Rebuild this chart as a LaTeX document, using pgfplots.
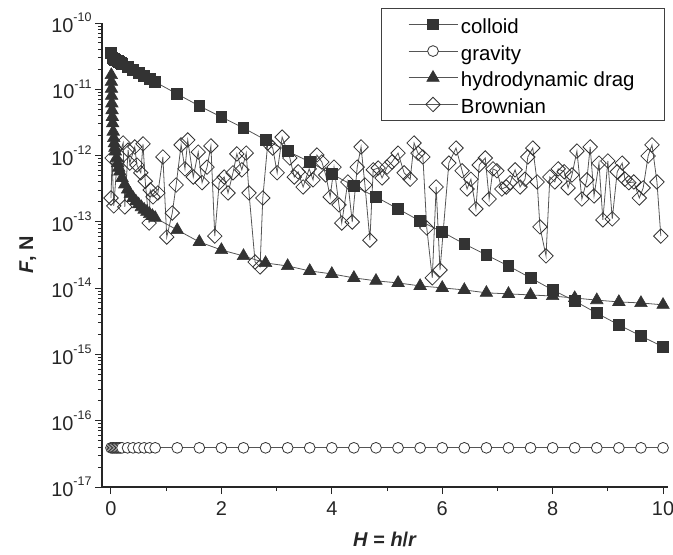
\documentclass[border=0pt]{standalone}
\usepackage{pgfplots}
\pgfplotsset{compat=1.18}
\usepackage{fontspec}
\setmainfont{Liberation Sans}
\definecolor{mk}{HTML}{333333}
\definecolor{ln}{HTML}{555555}
\newcommand{\tl}[1]{10\raisebox{0.55em}{\fontsize{12.5}{12.5}\selectfont #1}}
\pgfplotsset{mylegend/.style={legend image code/.code={\draw[mark repeat=2,mark phase=2] plot coordinates {(0bp,0bp) (24.5bp,0bp) (49bp,0bp)};}}}
\begin{document}
\begin{tikzpicture}
\path[use as bounding box] (-102bp,-68bp) rectangle (571bp,487bp);
\begin{axis}[
  scale only axis, width=566bp, height=464bp,
  xmin=-0.163, xmax=10.09,
  ymode=log, ymin=1e-17, ymax=1e-10,
  axis x line*=bottom, axis y line*=left,
  axis line style={-, line width=1.3bp, color=black!85},
  tick align=outside,
  major tick length=7bp, minor tick length=4bp,
  every tick/.style={line width=1bp, color=black!85},
  xtick={0,2,4,6,8,10}, minor xtick={1,3,5,7,9},
  ytick={1e-17,1e-16,1e-15,1e-14,1e-13,1e-12,1e-11,1e-10},
  minor ytick={2e-17,3e-17,4e-17,5e-17,6e-17,7e-17,8e-17,9e-17,
    2e-16,3e-16,4e-16,5e-16,6e-16,7e-16,8e-16,9e-16,
    2e-15,3e-15,4e-15,5e-15,6e-15,7e-15,8e-15,9e-15,
    2e-14,3e-14,4e-14,5e-14,6e-14,7e-14,8e-14,9e-14,
    2e-13,3e-13,4e-13,5e-13,6e-13,7e-13,8e-13,9e-13,
    2e-12,3e-12,4e-12,5e-12,6e-12,7e-12,8e-12,9e-12,
    2e-11,3e-11,4e-11,5e-11,6e-11,7e-11,8e-11,9e-11},
  yticklabels={\tl{-17},\tl{-16},\tl{-15},\tl{-14},\tl{-13},\tl{-12},\tl{-11},\tl{-10}},
  /pgf/number format/assume math mode=true,
  ticklabel style={font=\fontsize{20}{20}\selectfont, color=black!85},
  xticklabel style={yshift=-4bp},
  xlabel={\textbf{\textit{H} = \textit{h}/\textit{r}}},
  ylabel={\textbf{\textit{F}, N}},
  label style={font=\fontsize{20}{20}\selectfont, color=black!85},
  xlabel style={at={(axis description cs:0.5,-0.114)}, anchor=center},
  ylabel style={at={(axis description cs:-0.131,0.5)}, anchor=center},
  clip=false,
  legend style={at={(axis description cs:1,1)}, anchor=north east, xshift=-3bp, yshift=15bp,
    draw=black!75, line width=0.8bp, fill=white,
    font=\fontsize{20.5}{24}\selectfont,
    nodes={text height=18bp, text depth=0bp, inner ysep=4.35bp, inner xsep=3bp},
    inner xsep=27bp, inner ysep=2.6bp, row sep=0bp},
  legend cell align=left,
]
% colloid
\addplot[mylegend, color=ln, line width=0.8bp, mark=square*, mark size=5.4bp, mark options={draw=mk, fill=mk, line width=0.8bp}] coordinates {
(0,3.53e-11) (0.025,2.96e-11) (0.05,2.88e-11) (0.075,2.80e-11) (0.1,2.72e-11) (0.125,2.65e-11) (0.15,2.58e-11) (0.175,2.51e-11) (0.2,2.44e-11) (0.3,2.20e-11) (0.4,1.98e-11) (0.5,1.78e-11) (0.6,1.60e-11) (0.7,1.43e-11) (0.8,1.29e-11) (1.2,8.49e-12) (1.6,5.60e-12) (2.0,3.82e-12) (2.4,2.61e-12) (2.8,1.72e-12) (3.2,1.17e-12) (3.6,8.0e-13) (4.0,5.28e-13) (4.4,3.48e-13) (4.8,2.38e-13) (5.2,1.57e-13) (5.6,1.03e-13) (6.0,7.05e-14) (6.4,4.65e-14) (6.8,3.17e-14) (7.2,2.16e-14) (7.6,1.43e-14) (8.0,9.4e-15) (8.4,6.4e-15) (8.8,4.2e-15) (9.2,2.79e-15) (9.6,1.90e-15) (10,1.30e-15)
};
\addlegendentry{colloid}
% gravity
\addplot[mylegend, color=ln, line width=0.8bp, mark=*, mark size=5.4bp, mark options={draw=mk, fill=white, line width=0.8bp}] coordinates {
(0,3.9e-17) (0.025,3.9e-17) (0.05,3.9e-17) (0.075,3.9e-17) (0.1,3.9e-17) (0.125,3.9e-17) (0.15,3.9e-17) (0.175,3.9e-17) (0.2,3.9e-17) (0.3,3.9e-17) (0.4,3.9e-17) (0.5,3.9e-17) (0.6,3.9e-17) (0.7,3.9e-17) (0.8,3.9e-17) (1.2,3.9e-17) (1.6,3.9e-17) (2.0,3.9e-17) (2.4,3.9e-17) (2.8,3.9e-17) (3.2,3.9e-17) (3.6,3.9e-17) (4.0,3.9e-17) (4.4,3.9e-17) (4.8,3.9e-17) (5.2,3.9e-17) (5.6,3.9e-17) (6.0,3.9e-17) (6.4,3.9e-17) (6.8,3.9e-17) (7.2,3.9e-17) (7.6,3.9e-17) (8.0,3.9e-17) (8.4,3.9e-17) (8.8,3.9e-17) (9.2,3.9e-17) (9.6,3.9e-17) (10,3.9e-17)
};
\addlegendentry{gravity}
% hydrodynamic drag
\addplot[mylegend, color=ln, line width=0.8bp, mark=triangle*, mark size=7.2bp, mark options={draw=mk, fill=mk, line width=0.6bp}] coordinates {
(0.0056,1.64e-11) (0.0071,1.30e-11) (0.009,1.02e-11) (0.0115,8.0e-12) (0.015,6.13e-12) (0.019,4.84e-12) (0.024,3.83e-12) (0.03,3.07e-12) (0.04,2.3e-12) (0.05,1.84e-12) (0.06,1.53e-12) (0.07,1.31e-12) (0.08,1.15e-12) (0.1,9.2e-13) (0.12,7.67e-13) (0.14,6.57e-13) (0.16,5.75e-13) (0.2,4.6e-13) (0.25,3.68e-13) (0.3,3.07e-13) (0.35,2.63e-13) (0.4,2.3e-13) (0.45,2.04e-13) (0.5,1.84e-13) (0.55,1.67e-13) (0.6,1.53e-13) (0.65,1.42e-13) (0.7,1.31e-13) (0.75,1.23e-13) (0.8,1.15e-13) (1.2,7.55e-14) (1.6,4.98e-14) (2.0,3.77e-14) (2.4,3.06e-14) (2.8,2.40e-14) (3.2,2.16e-14) (3.6,1.82e-14) (4.0,1.64e-14) (4.4,1.43e-14) (4.8,1.29e-14) (5.2,1.20e-14) (5.6,1.08e-14) (6.0,1.01e-14) (6.4,9.4e-15) (6.8,8.5e-15) (7.2,8.2e-15) (7.6,7.9e-15) (8.0,7.6e-15) (8.4,7.1e-15) (8.8,6.6e-15) (9.2,6.2e-15) (9.6,5.98e-15) (10,5.6e-15)
};
\addlegendentry{hydrodynamic drag}
% Brownian
\addplot[mylegend, color=ln, line width=0.8bp, mark=square, mark size=5.1bp, mark options={draw=mk, fill=white, line width=0.8bp, rotate=45}] coordinates {
(0.00,2.29e-13) (0.02,9.2e-13) (0.05,1.74e-13) (0.11,8.0e-13) (0.22,1.55e-12) (0.25,1.68e-13) (0.31,1.21e-12) (0.34,7.7e-13) (0.43,1.35e-12) (0.47,7.2e-13) (0.54,5.5e-13) (0.58,1.50e-12) (0.62,4.1e-13) (0.69,9.6e-14) (0.71,3.03e-13) (0.76,2.38e-13) (0.85,2.73e-13) (0.94,9.53e-13) (1.01,5.9e-14) (1.11,1.36e-13) (1.18,3.6e-13) (1.27,1.45e-12) (1.34,6.3e-13) (1.39,1.72e-12) (1.49,4.75e-13) (1.58,1.13e-12) (1.65,3.9e-13) (1.74,6.7e-13) (1.81,1.40e-12) (1.88,6.1e-14) (1.96,3.9e-13) (2.05,4.75e-13) (2.12,2.73e-13) (2.21,5.5e-13) (2.28,1.06e-12) (2.37,6.1e-13) (2.45,1.09e-12) (2.50,2.73e-13) (2.61,2.48e-14) (2.70,2.09e-14) (2.75,2.29e-13) (2.84,1.55e-12) (2.93,1.30e-12) (3.01,5.5e-13) (3.10,1.9e-12) (3.24,9.2e-13) (3.32,4.75e-13) (3.39,5.7e-13) (3.48,3.36e-13) (3.59,6.3e-13) (3.66,4.3e-13) (3.73,1.02e-12) (3.82,8.0e-13) (3.89,5.1e-13) (3.97,2.38e-13) (4.04,6.7e-13) (4.13,1.80e-13) (4.18,9.6e-14) (4.29,4.0e-13) (4.37,9.96e-14) (4.46,6.7e-13) (4.53,1.35e-12) (4.60,3.6e-13) (4.69,5.3e-14) (4.75,6.1e-13) (4.84,6.5e-13) (4.91,4.6e-13) (5.00,6.7e-13) (5.09,8.0e-13) (5.20,1.09e-12) (5.31,5.5e-13) (5.42,4.4e-13) (5.49,1.55e-12) (5.56,1.09e-12) (5.65,9.53e-13) (5.72,8.1e-14) (5.82,1.43e-14) (5.89,3.36e-13) (5.96,1.88e-14) (6.12,7.7e-13) (6.25,1.30e-12) (6.36,5.9e-13) (6.45,3.13e-13) (6.52,4.4e-13) (6.61,1.57e-13) (6.67,7.2e-13) (6.78,9.2e-13) (6.85,2.21e-13) (6.92,6.3e-13) (6.99,5.9e-13) (7.08,3.13e-13) (7.16,3.36e-13) (7.23,3.9e-13) (7.32,6.1e-13) (7.41,3.36e-13) (7.50,4.4e-13) (7.55,9.53e-13) (7.64,1.30e-12) (7.72,4.0e-13) (7.77,8.4e-14) (7.88,3.06e-14) (7.95,4.75e-13) (8.04,4.0e-13) (8.10,6.3e-13) (8.21,5.7e-13) (8.28,3.25e-13) (8.35,5.1e-13) (8.44,1.17e-12) (8.53,2.21e-13) (8.62,4.3e-13) (8.68,1.35e-12) (8.75,2.46e-13) (8.84,7.7e-13) (8.91,1.07e-13) (9.00,8.3e-13) (9.08,1.11e-13) (9.17,5.7e-13) (9.26,7.7e-13) (9.31,4.4e-13) (9.38,3.9e-13) (9.47,4.0e-13) (9.57,2.29e-13) (9.64,3.25e-13) (9.73,9.86e-13) (9.80,1.45e-12) (9.89,4.0e-13) (9.96,6.1e-14)
};
\addlegendentry{Brownian}
\end{axis}
\end{tikzpicture}
\end{document}
